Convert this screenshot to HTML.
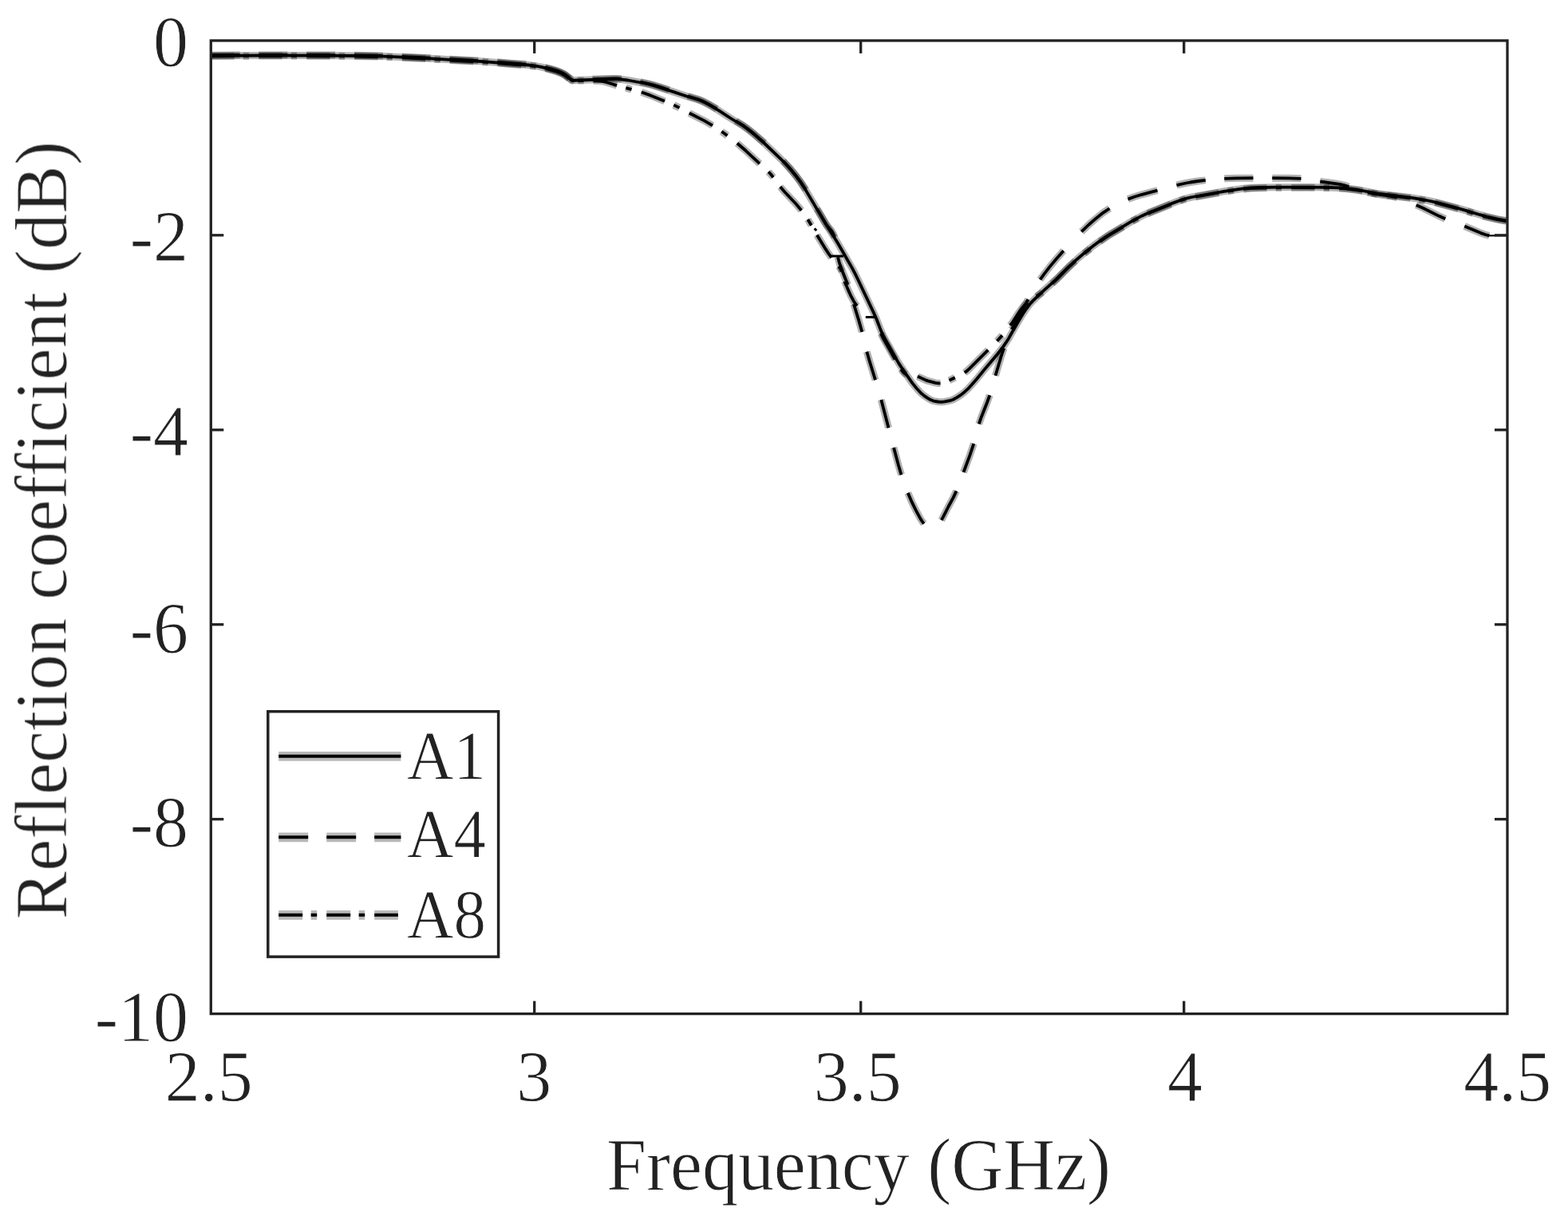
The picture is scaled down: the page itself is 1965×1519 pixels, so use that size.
<!DOCTYPE html>
<html lang="en">
<head>
<meta charset="utf-8">
<title>Reflection coefficient vs frequency</title>
<style>
html,body{margin:0;padding:0;background:#fff;}
body{width:1965px;height:1519px;overflow:hidden;}
svg{display:block;}
</style>
</head>
<body>
<svg width="1965" height="1519" viewBox="0 0 1965 1519">
<defs><filter id="soft" x="0" y="0" width="1965" height="1519" filterUnits="userSpaceOnUse"><feGaussianBlur stdDeviation="0.7"/></filter></defs>
<rect x="0" y="0" width="1965" height="1519" fill="#ffffff"/>
<g filter="url(#soft)">
<g fill="none" stroke="#000" stroke-linejoin="round" stroke-linecap="butt" stroke-width="9.0" stroke-opacity="0.3">
<path d="M264.3 69.8 L336.8 69.5 L402.8 69.6 L452.1 70 L481.1 70.6 L539.3 73.3 L576.8 75.6 L605.3 77.1 L639.3 79.8 L662.3 81.5 L669.8 82.4 L678 83.9 L690.3 86.9 L698.5 89.5 L703.5 91.5 L707 93.2 L714 98.5 L716 100.4 L717 101 L724.3 100.5 L770.3 99 L776.8 99.3 L786.5 100.5 L805.5 104 L813.3 105.7 L820.5 107.7 L844 115.1 L860.8 120.8 L874 124.7 L878.3 126.3 L882 127.9 L889 131.6 L901 138.7 L915.3 148 L930.8 157.5 L935.5 160.8 L940.8 164.9 L948.5 171.4 L957.8 179.5 L977 197.8 L982.3 203.1 L987 208.2 L992.5 214.6 L997.5 220.7 L1004.3 229.9 L1010.5 239.6 L1034.3 279.9 L1045 296.7 L1049.8 304.5 L1067.3 334.9 L1071.3 342.4 L1075.5 351 L1094.5 391.1 L1098.3 399.5 L1104 414.4 L1106.8 420.6 L1109.8 426.3 L1120.3 445 L1126.5 455.6 L1132.8 465.1 L1143.3 480.1 L1148.5 486.5 L1154 492.5 L1158.3 496.1 L1162.8 499.1 L1166 501 L1170 502.6 L1175.5 503.5 L1179.5 503.8 L1183.8 503.4 L1191.5 501.8 L1194.5 500.7 L1198.8 498.4 L1204.3 494.9 L1208.8 491.2 L1213.8 486.6 L1217.5 482.5 L1224 475 L1233.5 463.4 L1250.3 443.5 L1257.3 434.4 L1263.8 424.7 L1272 409.9 L1282 393.2 L1286.5 386.5 L1290.5 381.3 L1294.5 376.9 L1299.3 372.3 L1308.3 363.9 L1323 350.7 L1339.8 333.9 L1349.3 325.2 L1358.8 317.1 L1371.5 307 L1379 301.6 L1385.8 296.9 L1392.3 292.8 L1421.5 275.4 L1431.3 270.4 L1440.3 266.3 L1467.5 255.4 L1483.3 249.5 L1487.8 248.3 L1493.8 247 L1534 239.8 L1555.8 236.6 L1566.5 235.5 L1579 235 L1599.3 234.7 L1638.5 234.6 L1664 234.9 L1683 235.7 L1691.3 236.5 L1702.5 238 L1724.8 242.4 L1767.8 247.7 L1779 249.5 L1790 251.5 L1800.8 253.9 L1821.5 259.4 L1838 264.1 L1854.8 269.2 L1862.5 271.3 L1877 274.7 L1888.8 276.8"/>
<path d="M264.3 69.2 L300.6 69 M324.3 68.9 L360.3 68.9 M384.1 69 L420.1 69.1 M443.8 69.3 L479.8 70 M503.6 71 L539.5 72.7 M563.3 74.2 L599.3 76.1 M623 77.8 L639.5 79.2 L659.3 80.6 M682.8 84.4 L694.8 87.6 L699.3 89.1 L703.5 90.9 L706 92 L708.3 93.5 L714 97.9 L716.5 100.2 L717.3 100.4 L719 100.3 M742.5 99.3 L769.3 98.4 L773.5 98.5 L778.8 98.9 M802.3 102.7 L811 104.6 L818.3 106.4 L826.8 108.9 L838.5 112.7 M862 120.5 L873.8 124 L880.3 126.5 L887 129.9 L898.3 136.4 M922 151.5 L930.8 156.9 L937.5 161.7 L946 168.6 L958 179.1 M981.5 201.7 L989.8 210.7 L997.5 220.1 L1004 228.9 L1009.8 237.7 M1024 261.7 L1035.5 281.3 L1037.3 283.7 L1041.3 288.4 L1043 290.9 L1044.5 293.7 L1046 297.2 M1050 322.2 L1051.8 329 L1053.8 335.3 L1060 350.7 L1062.3 356.9 M1070 381.2 L1076 400.9 L1080.3 416.1 M1086.3 440.7 L1089.5 451.9 L1097 476.2 M1104.3 501.1 L1113.5 536.2 M1120 560.9 L1126 583.2 L1129.5 595.1 M1137.8 617.8 L1142.8 629.4 L1147.8 639.7 L1153.5 650.1 L1155.8 653.6 L1157.8 656.3 M1179.8 651.8 L1182.5 646.8 L1188.5 635 L1194.8 623.4 L1198.5 615.4 M1207.5 591.8 L1215.5 570.4 L1220.3 556 M1226.8 531.4 L1229.8 522.7 L1237 504.5 L1240.3 495.3 M1247.5 470.7 L1254.3 447.7 L1258 436.5 M1268 412.9 L1275.8 397.8 L1288.5 375.3 M1303.5 350.4 L1309.3 342.4 L1315.5 334.4 L1322.5 326 L1332.8 314.2 M1355.3 290.4 L1364.5 281.5 L1372 275 L1382.5 266.6 L1390.5 261.2 M1413.5 249.6 L1421.3 246.8 L1431 243.8 L1450.5 238.7 M1474.5 232.1 L1483.8 230 L1491.5 228.5 L1501.3 227 L1510.8 225.9 M1534.3 223.8 L1549.3 223.3 L1570.5 223.2 M1594.3 223.2 L1615.8 223.3 L1630.5 223.8 M1654.3 227.5 L1671.8 229.8 L1678.8 230.9 L1684.3 232.1 L1690.3 234 M1714 241.3 L1722.5 242.9 L1741.8 245.7 L1750.8 247.5 M1774.8 256.9 L1783.8 261 L1803 270.6 L1811.3 274.3 M1835.3 283.5 L1855.8 292.1 L1861.3 294 L1866.3 295.3"/>
<path d="M264.3 70.4 L293.6 70.2 M304.8 70.2 L312.1 70.2 M324.3 70.1 L353.6 70.1 M364.8 70.1 L372.1 70.1 M384.3 70.2 L413.6 70.3 M424.8 70.3 L432.1 70.4 M444.3 70.5 L473.6 71 M484.8 71.4 L491.8 71.6 M504.1 72.2 L533.3 73.6 M544.5 74.2 L551.8 74.6 M564 75.5 L593.3 77 M604.5 77.6 L611.8 78.1 M624 79.1 L639.5 80.4 L653.3 81.4 M664.5 82.3 L671.8 83.3 M684 85.9 L694.8 88.8 L703 91.8 L707.3 94 L713.3 98.6 M724.3 101.1 L731.5 100.9 M743.8 101.2 L752.5 101.6 L756 102.1 L760.3 103.2 L773 107.1 M784.3 110.2 L791.5 112.2 M803.8 115.5 L814.8 119.4 L833 126.8 M844.3 131.6 L851.5 135.1 M863.8 141.7 L882.8 151.4 L893 157.3 M904.3 164.8 L911.5 170 M923.8 179.5 L934.5 188.8 L952 205.1 M963 215.3 L966.3 218.8 L969 222.2 M977.8 234.1 L983.5 240.7 L997.3 255.3 L1004.3 263.7 M1012.3 275 L1016.8 282.4 M1023.8 294.6 L1034.8 312.4 L1038.5 318 L1042 322.9 M1051.3 333.8 L1053.5 337.1 L1054.8 340.2 M1058.5 352.6 L1062.8 363.1 L1066.5 371.2 L1070 377.7 L1073.8 383.4 M1104 417.9 L1108 425.9 L1121.8 450.4 M1129.3 462.7 L1131 465.3 L1132.8 467.3 L1134.3 468.4 L1136.3 469.1 M1149.8 471.8 L1153 473.1 L1160 476.4 L1162.8 477.4 L1172.3 479.9 L1175.8 480.4 L1178.5 480.3 M1189.5 476.8 L1196.8 473.3 M1208.8 467.1 L1211.8 464.9 L1215 461.9 L1238.3 438.6 M1249.5 427.5 L1256 420.4 M1266 407.9 L1269.3 403.4 L1276.8 391.8 L1280.3 386.9 L1283.8 382.7 L1287.8 379.2 M1299 371.4 L1306.3 366.4 M1318.5 355.6 L1325 349.3 L1337.5 336.6 L1347.5 327.3 M1358.8 317.7 L1366 311.9 M1378.3 302.7 L1389.8 294.9 L1407.5 284.4 M1418.8 277.5 L1426 273.6 M1438.3 267.7 L1467.5 256 M1478.8 251.7 L1486 249.3 M1498.3 246.7 L1527.5 241.5 M1538.8 239.6 L1546 238.6 M1558.3 236.9 L1568.5 235.9 L1587.5 235.5 M1598.8 235.3 L1606 235.2 M1618.3 235.2 L1647.5 235.3 M1658.8 235.4 L1666 235.5 M1678.3 236 L1684.8 236.4 L1691 237.1 L1702.5 238.6 L1707.5 239.5 M1718.8 241.9 L1726 243.2 M1738.3 244.7 L1767.5 248.3 M1778.8 250 L1786 251.3 M1798.3 253.9 L1827.5 261.7 M1838.8 264.9 L1846 267.1 M1858.3 270.8 L1874.8 274.8 L1887.5 277.2"/>
</g>
<g fill="none" stroke="#000" stroke-linejoin="round" stroke-linecap="butt" stroke-width="3.8">
<path d="M264.3 69.8 L336.8 69.5 L402.8 69.6 L452.1 70 L481.1 70.6 L539.3 73.3 L576.8 75.6 L605.3 77.1 L639.3 79.8 L662.3 81.5 L669.8 82.4 L678 83.9 L690.3 86.9 L698.5 89.5 L703.5 91.5 L707 93.2 L714 98.5 L716 100.4 L717 101 L724.3 100.5 L770.3 99 L776.8 99.3 L786.5 100.5 L805.5 104 L813.3 105.7 L820.5 107.7 L844 115.1 L860.8 120.8 L874 124.7 L878.3 126.3 L882 127.9 L889 131.6 L901 138.7 L915.3 148 L930.8 157.5 L935.5 160.8 L940.8 164.9 L948.5 171.4 L957.8 179.5 L977 197.8 L982.3 203.1 L987 208.2 L992.5 214.6 L997.5 220.7 L1004.3 229.9 L1010.5 239.6 L1034.3 279.9 L1045 296.7 L1049.8 304.5 L1067.3 334.9 L1071.3 342.4 L1075.5 351 L1094.5 391.1 L1098.3 399.5 L1104 414.4 L1106.8 420.6 L1109.8 426.3 L1120.3 445 L1126.5 455.6 L1132.8 465.1 L1143.3 480.1 L1148.5 486.5 L1154 492.5 L1158.3 496.1 L1162.8 499.1 L1166 501 L1170 502.6 L1175.5 503.5 L1179.5 503.8 L1183.8 503.4 L1191.5 501.8 L1194.5 500.7 L1198.8 498.4 L1204.3 494.9 L1208.8 491.2 L1213.8 486.6 L1217.5 482.5 L1224 475 L1233.5 463.4 L1250.3 443.5 L1257.3 434.4 L1263.8 424.7 L1272 409.9 L1282 393.2 L1286.5 386.5 L1290.5 381.3 L1294.5 376.9 L1299.3 372.3 L1308.3 363.9 L1323 350.7 L1339.8 333.9 L1349.3 325.2 L1358.8 317.1 L1371.5 307 L1379 301.6 L1385.8 296.9 L1392.3 292.8 L1421.5 275.4 L1431.3 270.4 L1440.3 266.3 L1467.5 255.4 L1483.3 249.5 L1487.8 248.3 L1493.8 247 L1534 239.8 L1555.8 236.6 L1566.5 235.5 L1579 235 L1599.3 234.7 L1638.5 234.6 L1664 234.9 L1683 235.7 L1691.3 236.5 L1702.5 238 L1724.8 242.4 L1767.8 247.7 L1779 249.5 L1790 251.5 L1800.8 253.9 L1821.5 259.4 L1838 264.1 L1854.8 269.2 L1862.5 271.3 L1877 274.7 L1888.8 276.8"/>
<path d="M264.3 69.2 L300.6 69 M324.3 68.9 L360.3 68.9 M384.1 69 L420.1 69.1 M443.8 69.3 L479.8 70 M503.6 71 L539.5 72.7 M563.3 74.2 L599.3 76.1 M623 77.8 L639.5 79.2 L659.3 80.6 M682.8 84.4 L694.8 87.6 L699.3 89.1 L703.5 90.9 L706 92 L708.3 93.5 L714 97.9 L716.5 100.2 L717.3 100.4 L719 100.3 M742.5 99.3 L769.3 98.4 L773.5 98.5 L778.8 98.9 M802.3 102.7 L811 104.6 L818.3 106.4 L826.8 108.9 L838.5 112.7 M862 120.5 L873.8 124 L880.3 126.5 L887 129.9 L898.3 136.4 M922 151.5 L930.8 156.9 L937.5 161.7 L946 168.6 L958 179.1 M981.5 201.7 L989.8 210.7 L997.5 220.1 L1004 228.9 L1009.8 237.7 M1024 261.7 L1035.5 281.3 L1037.3 283.7 L1041.3 288.4 L1043 290.9 L1044.5 293.7 L1046 297.2 M1050 322.2 L1051.8 329 L1053.8 335.3 L1060 350.7 L1062.3 356.9 M1070 381.2 L1076 400.9 L1080.3 416.1 M1086.3 440.7 L1089.5 451.9 L1097 476.2 M1104.3 501.1 L1113.5 536.2 M1120 560.9 L1126 583.2 L1129.5 595.1 M1137.8 617.8 L1142.8 629.4 L1147.8 639.7 L1153.5 650.1 L1155.8 653.6 L1157.8 656.3 M1179.8 651.8 L1182.5 646.8 L1188.5 635 L1194.8 623.4 L1198.5 615.4 M1207.5 591.8 L1215.5 570.4 L1220.3 556 M1226.8 531.4 L1229.8 522.7 L1237 504.5 L1240.3 495.3 M1247.5 470.7 L1254.3 447.7 L1258 436.5 M1268 412.9 L1275.8 397.8 L1288.5 375.3 M1303.5 350.4 L1309.3 342.4 L1315.5 334.4 L1322.5 326 L1332.8 314.2 M1355.3 290.4 L1364.5 281.5 L1372 275 L1382.5 266.6 L1390.5 261.2 M1413.5 249.6 L1421.3 246.8 L1431 243.8 L1450.5 238.7 M1474.5 232.1 L1483.8 230 L1491.5 228.5 L1501.3 227 L1510.8 225.9 M1534.3 223.8 L1549.3 223.3 L1570.5 223.2 M1594.3 223.2 L1615.8 223.3 L1630.5 223.8 M1654.3 227.5 L1671.8 229.8 L1678.8 230.9 L1684.3 232.1 L1690.3 234 M1714 241.3 L1722.5 242.9 L1741.8 245.7 L1750.8 247.5 M1774.8 256.9 L1783.8 261 L1803 270.6 L1811.3 274.3 M1835.3 283.5 L1855.8 292.1 L1861.3 294 L1866.3 295.3"/>
<path d="M264.3 70.4 L293.6 70.2 M304.8 70.2 L312.1 70.2 M324.3 70.1 L353.6 70.1 M364.8 70.1 L372.1 70.1 M384.3 70.2 L413.6 70.3 M424.8 70.3 L432.1 70.4 M444.3 70.5 L473.6 71 M484.8 71.4 L491.8 71.6 M504.1 72.2 L533.3 73.6 M544.5 74.2 L551.8 74.6 M564 75.5 L593.3 77 M604.5 77.6 L611.8 78.1 M624 79.1 L639.5 80.4 L653.3 81.4 M664.5 82.3 L671.8 83.3 M684 85.9 L694.8 88.8 L703 91.8 L707.3 94 L713.3 98.6 M724.3 101.1 L731.5 100.9 M743.8 101.2 L752.5 101.6 L756 102.1 L760.3 103.2 L773 107.1 M784.3 110.2 L791.5 112.2 M803.8 115.5 L814.8 119.4 L833 126.8 M844.3 131.6 L851.5 135.1 M863.8 141.7 L882.8 151.4 L893 157.3 M904.3 164.8 L911.5 170 M923.8 179.5 L934.5 188.8 L952 205.1 M963 215.3 L966.3 218.8 L969 222.2 M977.8 234.1 L983.5 240.7 L997.3 255.3 L1004.3 263.7 M1012.3 275 L1016.8 282.4 M1023.8 294.6 L1034.8 312.4 L1038.5 318 L1042 322.9 M1051.3 333.8 L1053.5 337.1 L1054.8 340.2 M1058.5 352.6 L1062.8 363.1 L1066.5 371.2 L1070 377.7 L1073.8 383.4 M1104 417.9 L1108 425.9 L1121.8 450.4 M1129.3 462.7 L1131 465.3 L1132.8 467.3 L1134.3 468.4 L1136.3 469.1 M1149.8 471.8 L1153 473.1 L1160 476.4 L1162.8 477.4 L1172.3 479.9 L1175.8 480.4 L1178.5 480.3 M1189.5 476.8 L1196.8 473.3 M1208.8 467.1 L1211.8 464.9 L1215 461.9 L1238.3 438.6 M1249.5 427.5 L1256 420.4 M1266 407.9 L1269.3 403.4 L1276.8 391.8 L1280.3 386.9 L1283.8 382.7 L1287.8 379.2 M1299 371.4 L1306.3 366.4 M1318.5 355.6 L1325 349.3 L1337.5 336.6 L1347.5 327.3 M1358.8 317.7 L1366 311.9 M1378.3 302.7 L1389.8 294.9 L1407.5 284.4 M1418.8 277.5 L1426 273.6 M1438.3 267.7 L1467.5 256 M1478.8 251.7 L1486 249.3 M1498.3 246.7 L1527.5 241.5 M1538.8 239.6 L1546 238.6 M1558.3 236.9 L1568.5 235.9 L1587.5 235.5 M1598.8 235.3 L1606 235.2 M1618.3 235.2 L1647.5 235.3 M1658.8 235.4 L1666 235.5 M1678.3 236 L1684.8 236.4 L1691 237.1 L1702.5 238.6 L1707.5 239.5 M1718.8 241.9 L1726 243.2 M1738.3 244.7 L1767.5 248.3 M1778.8 250 L1786 251.3 M1798.3 253.9 L1827.5 261.7 M1838.8 264.9 L1846 267.1 M1858.3 270.8 L1874.8 274.8 L1887.5 277.2"/>
</g>
<path fill="none" stroke="#000" stroke-width="2.2" d="M1866 295.3 L1888 295.3"/>
<path fill="none" stroke="#000" stroke-width="3" d="M1040 321 L1057 321 M1084.8 397.5 L1098 397.5 M1020.6 286.4 L1023.2 289"/>
<rect x="264.3" y="50.9" width="1624.7" height="1219.7" fill="none" stroke="#222222" stroke-width="3.3"/>
<g stroke="#222222" stroke-width="3.3">
<line x1="669.7" y1="1270.6" x2="669.7" y2="1254.6"/>
<line x1="669.7" y1="50.9" x2="669.7" y2="66.9"/>
<line x1="1078.7" y1="1270.6" x2="1078.7" y2="1254.6"/>
<line x1="1078.7" y1="50.9" x2="1078.7" y2="66.9"/>
<line x1="1483.7" y1="1270.6" x2="1483.7" y2="1254.6"/>
<line x1="1483.7" y1="50.9" x2="1483.7" y2="66.9"/>
<line x1="264.3" y1="294.8" x2="280.3" y2="294.8"/>
<line x1="1889.0" y1="294.8" x2="1873.0" y2="294.8"/>
<line x1="264.3" y1="538.8" x2="280.3" y2="538.8"/>
<line x1="1889.0" y1="538.8" x2="1873.0" y2="538.8"/>
<line x1="264.3" y1="782.7" x2="280.3" y2="782.7"/>
<line x1="1889.0" y1="782.7" x2="1873.0" y2="782.7"/>
<line x1="264.3" y1="1026.7" x2="280.3" y2="1026.7"/>
<line x1="1889.0" y1="1026.7" x2="1873.0" y2="1026.7"/>
</g>
<g font-family='"Liberation Serif", "DejaVu Serif", serif' fill="#222222" stroke="#fff" stroke-width="0.9" stroke-linejoin="round" font-size="88">
<text transform="translate(261.8 1379.7) scale(1.0 1.04)" text-anchor="middle">2.5</text>
<text transform="translate(669.3 1379.7) scale(1.0 1.04)" text-anchor="middle">3</text>
<text transform="translate(1074.7 1379.7) scale(1.0 1.04)" text-anchor="middle">3.5</text>
<text transform="translate(1485 1379.7) scale(1.0 1.04)" text-anchor="middle">4</text>
<text transform="translate(1889.2 1379.7) scale(1.0 1.04)" text-anchor="middle">4.5</text>
<text transform="translate(236 82.5) scale(1.0 1.04)" text-anchor="end">0</text>
<text transform="translate(236 327.2) scale(1.0 1.04)" text-anchor="end">-2</text>
<text transform="translate(236 570.9) scale(1.0 1.04)" text-anchor="end">-4</text>
<text transform="translate(236 818.5) scale(1.0 1.04)" text-anchor="end">-6</text>
<text transform="translate(236 1061.2) scale(1.0 1.04)" text-anchor="end">-8</text>
<text transform="translate(236 1305.1) scale(1.0 1.04)" text-anchor="end">-10</text>
</g>
<g font-family='"Liberation Serif", "DejaVu Serif", serif' fill="#222222" stroke="#fff" stroke-width="0.9" stroke-linejoin="round" font-size="90">
<text transform="translate(1076 1491) scale(1.0 1.04)" text-anchor="middle">Frequency (GHz)</text>
<text transform="translate(83.4 664.5) rotate(-90) scale(1.0 1.04)" text-anchor="middle" letter-spacing="0.28">Reflection coefficient (dB)</text>
</g>
<rect x="335.8" y="891.7" width="288.8" height="307.4" fill="#fff" stroke="#222222" stroke-width="3.5"/>
<path fill="none" stroke="#000" stroke-width="11.7" stroke-opacity="0.28" d="M349.2 947.8 L502.4 947.8"/>
<path fill="none" stroke="#000" stroke-width="11.7" stroke-opacity="0.28" stroke-dasharray="37 23" d="M349.2 1049.3 L502.4 1049.3"/>
<path fill="none" stroke="#000" stroke-width="11.7" stroke-opacity="0.28" stroke-dasharray="30 10.5 7.5 12" d="M349.2 1146.8 L498.9 1146.8"/>
<path fill="none" stroke="#000" stroke-width="3.9" stroke-opacity="1" d="M349.2 947.8 L502.4 947.8"/>
<path fill="none" stroke="#000" stroke-width="3.9" stroke-opacity="1" stroke-dasharray="37 23" d="M349.2 1049.3 L502.4 1049.3"/>
<path fill="none" stroke="#000" stroke-width="3.9" stroke-opacity="1" stroke-dasharray="30 10.5 7.5 12" d="M349.2 1146.8 L498.9 1146.8"/>
<g font-family='"Liberation Serif", "DejaVu Serif", serif' fill="#222222" stroke="#fff" stroke-width="0.9" stroke-linejoin="round" font-size="81">
<text transform="translate(510 976) scale(1.0 1.07)" text-anchor="start">A1</text>
<text transform="translate(510 1074) scale(1.0 1.07)" text-anchor="start">A4</text>
<text transform="translate(510 1175) scale(1.0 1.07)" text-anchor="start">A8</text>
</g>
</g>
</svg>
</body>
</html>
